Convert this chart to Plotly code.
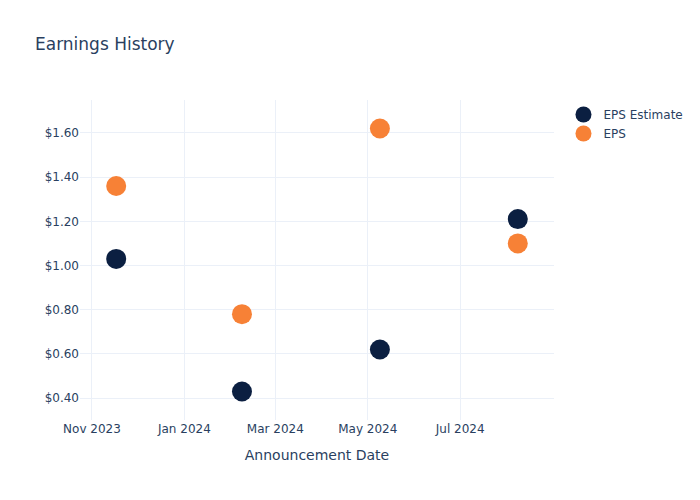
import plotly.graph_objects as go

dates = ["2023-11-17", "2024-02-08", "2024-05-09", "2024-08-08"]
eps_estimate = [1.03, 0.43, 0.62, 1.21]
eps_actual = [1.36, 0.78, 1.62, 1.10]

fig = go.Figure()
fig.add_trace(go.Scatter(x=dates, y=eps_estimate, mode="markers", name="EPS Estimate",
                         marker=dict(color="#0b1f41", size=20)))
fig.add_trace(go.Scatter(x=dates, y=eps_actual, mode="markers", name="EPS",
                         marker=dict(color="#f78136", size=20)))
fig.update_layout(
    template="plotly_white",
    width=700, height=500,
    font=dict(family="DejaVu Sans"),
    title=dict(text="Earnings History"),
    xaxis=dict(title=dict(text="Announcement Date"), dtick="M2", tickformat="%b %Y"),
    yaxis=dict(tickprefix="$", tickformat=".2f"),
)
fig.write_html("out.html")
